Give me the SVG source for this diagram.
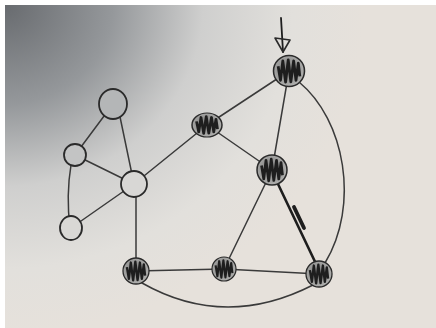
<svg xmlns="http://www.w3.org/2000/svg" width="436" height="328" viewBox="0 0 436 328">
<defs>
<radialGradient id="bg" cx="0" cy="0" r="1" gradientUnits="userSpaceOnUse" gradientTransform="translate(5 5) scale(360 330)">
<stop offset="0" stop-color="#686b6f"/>
<stop offset="0.3" stop-color="#95989b"/>
<stop offset="0.55" stop-color="#cfcfce"/>
<stop offset="0.8" stop-color="#e2e0dc"/>
<stop offset="1" stop-color="#e6e1db"/>
</radialGradient>
<radialGradient id="shade" cx="0.45" cy="0.45" r="0.6">
<stop offset="0" stop-color="#777"/>
<stop offset="1" stop-color="#b5b5b3"/>
</radialGradient>
<g id="dark">
<circle r="1" fill="url(#shade)" stroke="#2a2a2a" stroke-width="0.1"/>
<path d="M-0.7,-0.3 L-0.55,0.6 L-0.4,-0.65 L-0.22,0.72 L-0.05,-0.72 L0.12,0.7 L0.3,-0.65 L0.45,0.6 L0.6,-0.5 L0.7,0.35" fill="none" stroke="#1e1e1e" stroke-width="0.18" stroke-linejoin="round"/>
</g>
</defs>
<style>
.e{fill:none;stroke:#3a3a3a;stroke-width:1.5;stroke-linecap:round}
.t{fill:none;stroke:#1e1e1e;stroke-linecap:round}
.w{stroke:#2a2a2a;stroke-width:1.8}
</style>
<rect width="436" height="328" fill="#ffffff"/>
<rect x="5" y="5" width="431" height="323" fill="url(#bg)"/>
<g id="connectors">
<line class="e" x1="113" y1="104" x2="75" y2="155"/>
<line class="e" x1="119" y1="112" x2="134" y2="184"/>
<line class="e" x1="75" y1="155" x2="134" y2="184"/>
<path class="e" d="M71 165 Q66 195 70 228"/>
<line class="e" x1="71" y1="228" x2="134" y2="184"/>
<line class="e" x1="134" y1="184" x2="207" y2="125"/>
<line class="e" x1="136" y1="184" x2="136" y2="271"/>
<line class="e" x1="207" y1="125" x2="289" y2="71"/>
<line class="e" x1="207" y1="125" x2="272" y2="170"/>
<line class="e" x1="289" y1="71" x2="272" y2="170"/>
<path class="e" d="M299 82 C345 120 360 205 325 263"/>
<line class="e" x1="272" y1="170" x2="224" y2="269"/>
<line class="t" x1="278" y1="184" x2="318" y2="268" style="stroke-width:2.6"/>
<line class="t" x1="294" y1="207" x2="304" y2="228" style="stroke-width:3.8"/>
<line class="e" x1="136" y1="271" x2="224" y2="269"/>
<line class="e" x1="224" y1="269" x2="319" y2="274"/>
<path class="e" d="M142 283 Q225 330 313 285"/>
<line class="t" x1="281" y1="18" x2="283" y2="52" style="stroke-width:1.8"/>
<path d="M275 38 L283 52 L290 40 Z" fill="none" stroke="#2a2a2a" stroke-width="1.6" stroke-linejoin="round"/>
</g>
<g id="nE"><ellipse class="w" cx="113" cy="104" rx="14" ry="15" fill="#b4b6b7"/></g>
<g id="nF"><circle class="w" cx="75" cy="155" r="11" fill="#c3c4c4"/></g>
<g id="nG"><ellipse class="w" cx="71" cy="228" rx="11" ry="12" fill="#d9d8d5"/></g>
<g id="nD"><circle class="w" cx="134" cy="184" r="13" fill="#d8d7d5"/></g>
<g id="nA"><use href="#dark" transform="translate(289 71) scale(15.5)"/></g>
<g id="nB"><use href="#dark" transform="translate(207 125) scale(15 12)"/></g>
<g id="nC"><use href="#dark" transform="translate(272 170) scale(15)"/></g>
<g id="nH"><use href="#dark" transform="translate(136 271) scale(13)"/></g>
<g id="nI"><use href="#dark" transform="translate(224 269) scale(12)"/></g>
<g id="nJ"><use href="#dark" transform="translate(319 274) scale(13)"/></g>
</svg>
